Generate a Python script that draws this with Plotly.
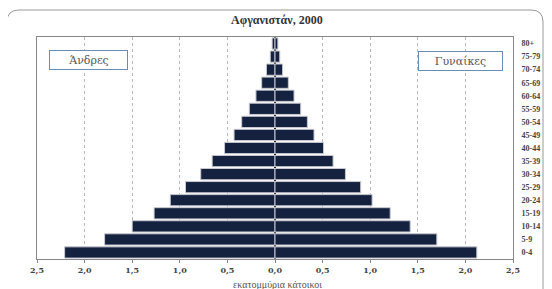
import plotly.graph_objects as go

ages = ["0-4", "5-9", "10-14", "15-19", "20-24", "25-29", "30-34", "35-39", "40-44",
        "45-49", "50-54", "55-59", "60-64", "65-69", "70-74", "75-79", "80+"]
men = [2.21, 1.79, 1.50, 1.27, 1.10, 0.94, 0.78, 0.66, 0.53,
       0.43, 0.35, 0.27, 0.20, 0.14, 0.09, 0.05, 0.03]
women = [2.12, 1.70, 1.42, 1.21, 1.02, 0.90, 0.74, 0.61, 0.51,
         0.41, 0.34, 0.27, 0.20, 0.14, 0.08, 0.05, 0.03]
tick_vals = [-2.5, -2.0, -1.5, -1.0, -0.5, 0.0, 0.5, 1.0, 1.5, 2.0, 2.5]
tick_text = ["2,5", "2,0", "1,5", "1,0", "0,5", "0,0", "0,5", "1,0", "1,5", "2,0", "2,5"]

# page body has an 8px margin; lay out in page pixels and shift
O = 8
W, H = 552 - O, 289 - O
L = 37 - O
R = W - (513 - O)
T = 37 - O
B = H - (259 - O)
pw, ph = W - L - R, H - T - B


def px(x):
    return (x - O - L) / pw


def py(y):
    return (H - B - (y - O)) / ph


bar_color = "#15223f"
fig = go.Figure()
fig.add_trace(go.Bar(y=ages, x=[-v for v in men], orientation="h", name="Άνδρες",
                     marker=dict(color=bar_color, line=dict(color="#c8c8d0", width=1))))
fig.add_trace(go.Bar(y=ages, x=women, orientation="h", name="Γυναίκες",
                     marker=dict(color=bar_color, line=dict(color="#c8c8d0", width=1))))

serif = "DejaVu Serif"

# outer rounded frame
x0, x1 = px(7), px(543)
y0, y1 = py(305), py(10)
rx, ry = 12 / pw, 12 / ph
path = (f"M {x0},{y0} L {x0},{y1-ry} Q {x0},{y1} {x0+rx},{y1} "
        f"L {x1-rx},{y1} Q {x1},{y1} {x1},{y1-ry} L {x1},{y0}")
shapes = [dict(type="path", xref="paper", yref="paper", path=path,
               line=dict(color="#9a9a9a", width=1), layer="below")]

annotations = [
    dict(text="<b>Αφγανιστάν, 2000</b>", xref="paper", yref="paper",
         x=px(277), y=py(20), showarrow=False, xanchor="center", yanchor="middle",
         font=dict(family="Liberation Serif", size=12, color="#333333")),
    dict(text="Άνδρες", xref="paper", yref="paper", x=px(49), y=py(60),
         xanchor="left", yanchor="middle", showarrow=False, width=73, height=14,
         align="center", bordercolor="#6b8db5", borderwidth=1, borderpad=2, bgcolor="white",
         font=dict(family=serif, size=11, color="#555555")),
    dict(text="Γυναίκες", xref="paper", yref="paper", x=px(418), y=py(60.5),
         xanchor="left", yanchor="middle", showarrow=False, width=79, height=14,
         align="center", bordercolor="#6b8db5", borderwidth=1, borderpad=2, bgcolor="white",
         font=dict(family=serif, size=11, color="#555555")),
    dict(text="εκατομμύρια κάτοικοι", xref="paper", yref="paper", x=px(277), y=py(284),
         xanchor="center", yanchor="middle", showarrow=False,
         font=dict(family="Liberation Serif", size=10, color="#555555")),
]

fig.update_layout(
    width=W, height=H, margin=dict(l=L, r=R, t=T, b=B, autoexpand=False),
    paper_bgcolor="white", plot_bgcolor="white",
    barmode="relative", bargap=0.14, showlegend=False,
    shapes=shapes, annotations=annotations,
    xaxis=dict(range=[-2.5, 2.5], tickvals=tick_vals, ticktext=tick_text,
               showgrid=True, gridcolor="#b8b8b8", griddash="dot", gridwidth=1,
               zeroline=True, zerolinecolor="#000000", zerolinewidth=1.5,
               showline=True, linecolor="#888888", linewidth=1, mirror=True,
               ticks="outside", ticklen=3, tickcolor="#888888",
               tickfont=dict(family=serif, size=8, color="#444444", weight="bold"),
               fixedrange=True),
    yaxis=dict(side="right", categoryorder="array", categoryarray=ages,
               range=[-0.5, 16.5], showgrid=False, zeroline=False,
               showline=True, linecolor="#888888", linewidth=1, mirror=True,
               ticks="", ticklabelstandoff=6,
               tickfont=dict(family="Liberation Serif", size=8, color="#444444", weight="bold"),
               fixedrange=True),
)

fig.write_html("out.html")
